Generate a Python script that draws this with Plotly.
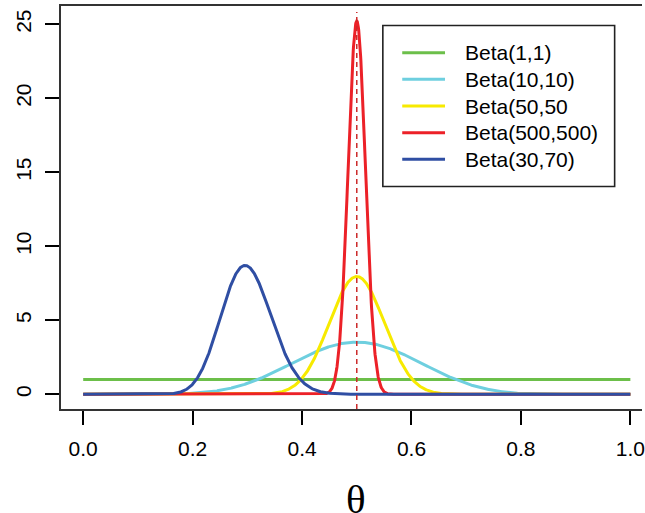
import math
import plotly.graph_objects as go

alphas = [1, 10, 50, 500, 30]
betas = [1, 10, 50, 500, 70]
labels = ["Beta(1,1)", "Beta(10,10)", "Beta(50,50", "Beta(500,500)", "Beta(30,70)"]
colors = ["#6cbf4a", "#6ecfdf", "#f7ea00", "#ec2128", "#2f4ea3"]
x_ticks = [0.0, 0.2, 0.4, 0.6, 0.8, 1.0]
x_tick_text = ["0.0", "0.2", "0.4", "0.6", "0.8", "1.0"]
y_ticks = [0, 5, 10, 15, 20, 25]
ref_theta = 0.5

N = 2001
theta = [i / (N - 1) for i in range(N)]


def beta_pdf(t, a, b):
    if t <= 0 or t >= 1:
        if a == 1 and b == 1:
            return 1.0
        return 0.0
    lg = math.lgamma(a + b) - math.lgamma(a) - math.lgamma(b)
    return math.exp(lg + (a - 1) * math.log(t) + (b - 1) * math.log(1 - t))


# ---- layout geometry (pixels) ----
W, H = 645, 513
L, R, T, B = 61, 0, 6, 104
PW, PH = W - L - R, H - T - B


def px(x):
    return (x - L) / PW


def py(y):
    return (H - B - y) / PH


FONT = "Liberation Sans, Arial, sans-serif"

fig = go.Figure()
for a, b, lab, col in zip(alphas, betas, labels, colors):
    fig.add_trace(go.Scatter(
        x=theta, y=[beta_pdf(t, a, b) for t in theta], mode="lines",
        line=dict(color=col, width=3), name=lab, showlegend=False,
        hoverinfo="skip"))

# vertical dashed reference line
fig.add_shape(type="line", xref="x", yref="paper", x0=ref_theta, x1=ref_theta,
              y0=0, y1=0.985, line=dict(color="#cc2a2a", width=1.5, dash="5px,4px"))

# manual legend (R style)
lx0, lx1, ly0, ly1 = 384.5, 617.5, 25.5, 186.5
fig.add_shape(type="rect", xref="paper", yref="paper",
              x0=px(lx0), x1=px(lx1), y0=py(ly1), y1=py(ly0),
              line=dict(color="#222222", width=1.6), fillcolor="white", layer="above")
row0, dy = 52.7, 26.65
for i, (lab, col) in enumerate(zip(labels, colors)):
    yy = row0 + i * dy
    fig.add_shape(type="line", xref="paper", yref="paper",
                  x0=px(404), x1=px(447), y0=py(yy), y1=py(yy),
                  line=dict(color=col, width=3), layer="above")
    fig.add_annotation(xref="paper", yref="paper", x=px(465), y=py(yy),
                       text=lab, showarrow=False, xanchor="left", yanchor="middle",
                       font=dict(family=FONT, size=21, color="black"))

# x-axis title θ
fig.add_annotation(xref="paper", yref="paper", x=px(357.5), y=py(499),
                   text="θ", showarrow=False, xanchor="center", yanchor="middle",
                   font=dict(family="Liberation Serif, Times New Roman, serif", size=41, color="black"))

fig.update_layout(
    width=W, height=H,
    margin=dict(l=L, r=R, t=T, b=B, pad=0),
    paper_bgcolor="white", plot_bgcolor="white",
    font=dict(family=FONT, size=21, color="black"),
    showlegend=False,
)
fig.update_xaxes(
    range=[-(83.3 - L) / 550, (W - 83.3) / 550],
    tickvals=x_ticks, ticktext=x_tick_text,
    ticks="outside", ticklen=14, tickwidth=1.5, tickcolor="black",
    showline=True, linecolor="#333333", linewidth=2, mirror=True,
    showgrid=False, zeroline=False, ticklabelstandoff=6,
    ticklabeloverflow="allow",
    tickfont=dict(family=FONT, size=21, color="black"),
)
fig.update_yaxes(
    range=[-(H - B - 394.3) / 14.8, (394.3 - T) / 14.8],
    tickvals=y_ticks,
    ticks="outside", ticklen=14, tickwidth=1.5, tickcolor="black",
    showline=True, linecolor="#333333", linewidth=2, mirror=False,
    showgrid=False, zeroline=False, tickangle=-90, ticklabelstandoff=6,
    tickfont=dict(family=FONT, size=21, color="black"),
)

fig.write_html(
    "out.html",
    config={"displayModeBar": False},
    post_script="document.body.style.margin='0';document.body.style.overflow='hidden';",
)
